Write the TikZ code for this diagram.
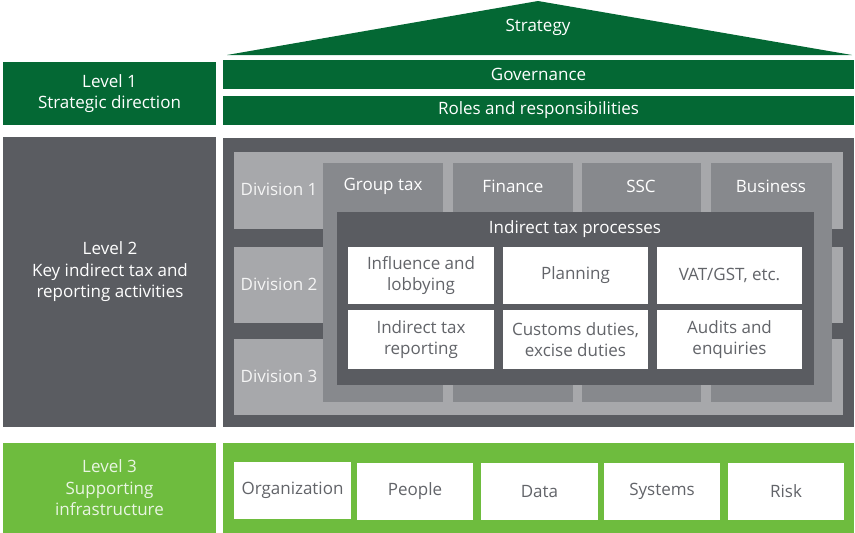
\documentclass[tikz,border=0pt]{standalone}
\usepackage{fontspec}
\setmainfont{Open Sans}
\usetikzlibrary{positioning}
\definecolor{darkgreen}{RGB}{4,104,52}
\definecolor{litegreen}{RGB}{110,188,62}
\definecolor{darkgrey}{RGB}{90,92,97}
\definecolor{midgrey}{RGB}{135,137,141}
\definecolor{litegrey}{RGB}{167,168,171}
\definecolor{textgrey}{RGB}{98,100,105}
\tikzset{
  txt/.style={font=\fontsize{17}{21.5}\selectfont,align=center,text=white,inner sep=0pt},
  blk/.style={anchor=north west,inner sep=0pt,outer sep=0pt},
  cell/.style={blk,fill=white,txt,text=textgrey}
}
\begin{document}
\begin{tikzpicture}[x=1pt,y=-1pt]
  \useasboundingbox (0,0) rectangle (855,533);
  % level 1
  \fill[darkgreen] (227,55) -- (538,1) -- (852,55) -- cycle;
  \node[txt] (strategy) at (538,27) {Strategy};
  \node[blk,fill=darkgreen,txt,minimum width=213,minimum height=63] (lvl1) at (3,62) {Level 1\\Strategic direction};
  \node[blk,fill=darkgreen,txt,minimum width=631,minimum height=29] (gov) at (223,60) {Governance};
  \node[blk,fill=darkgreen,txt,minimum width=631,minimum height=29] (roles) at (223,96) {Roles and responsibilities};
  % level 2
  \node[blk,fill=darkgrey,minimum width=213,minimum height=290] (lvl2) at (3,137) {};
  \node[txt] (lvl2txt) at (110,272) {Level 2\\Key indirect tax and\\reporting activities};
  \fill[darkgrey] (223,138) rectangle (854,427);
  \fill[litegrey] (234,152) rectangle (843,229);
  \fill[litegrey] (234,247) rectangle (843,323);
  \fill[litegrey] (234,339) rectangle (843,415);
  \node[txt,text=white!88!litegrey] (div1) at (279,189) {Division 1};
  \node[txt,text=white!88!litegrey] (div2) at (279,284) {Division 2};
  \node[txt,text=white!88!litegrey] (div3) at (279,376) {Division 3};
  \node[blk,fill=midgrey,minimum width=120,minimum height=239] (grptax) at (323,163) {};
  \node[blk,fill=midgrey,minimum width=120,minimum height=239] (finance) at (453,163) {};
  \node[blk,fill=midgrey,minimum width=119,minimum height=239] (ssc) at (582,163) {};
  \node[blk,fill=midgrey,minimum width=121,minimum height=239] (business) at (711,163) {};
  \node[txt] at (383,186) {Group tax};
  \node[txt] at (513,186) {Finance};
  \node[txt] at (641,186) {SSC};
  \node[txt] at (771,186) {Business};
  \node[blk,fill=darkgrey,minimum width=477,minimum height=173] (itp) at (337,212) {};
  \node[txt] (itptxt) at (575,229) {Indirect tax processes};
  \node[cell,minimum width=146,minimum height=57] (infl) at (348,247) {Influence and\\lobbying};
  \node[cell,minimum width=145,minimum height=57] (plan) at (503,247) {Planning};
  \node[cell,minimum width=145,minimum height=57] (vat) at (657,247) {VAT/GST, etc.};
  \node[cell,minimum width=146,minimum height=59] (report) at (348,310) {Indirect tax\\reporting};
  \node[cell,minimum width=145,minimum height=59] (customs) at (503,310) {Customs duties,\\excise duties};
  \node[cell,minimum width=145,minimum height=59] (audits) at (657,310) {Audits and\\enquiries};
  % level 3
  \node[blk,fill=litegreen,txt,text=white!85!litegreen,minimum width=213,minimum height=90] (lvl3) at (3,443) {Level 3\\Supporting\\infrastructure};
  \fill[litegreen] (223,443) rectangle (854,533);
  \node[cell,minimum width=117,minimum height=57] (org) at (234,462) {Organization};
  \node[cell,minimum width=116,minimum height=57] (people) at (357,463) {People};
  \node[cell,minimum width=117,minimum height=57] (data) at (481,463) {Data};
  \node[cell,minimum width=116,minimum height=57] (systems) at (604,463) {Systems};
  \node[cell,minimum width=116,minimum height=57] (risk) at (728,463) {Risk};
\end{tikzpicture}
\end{document}
